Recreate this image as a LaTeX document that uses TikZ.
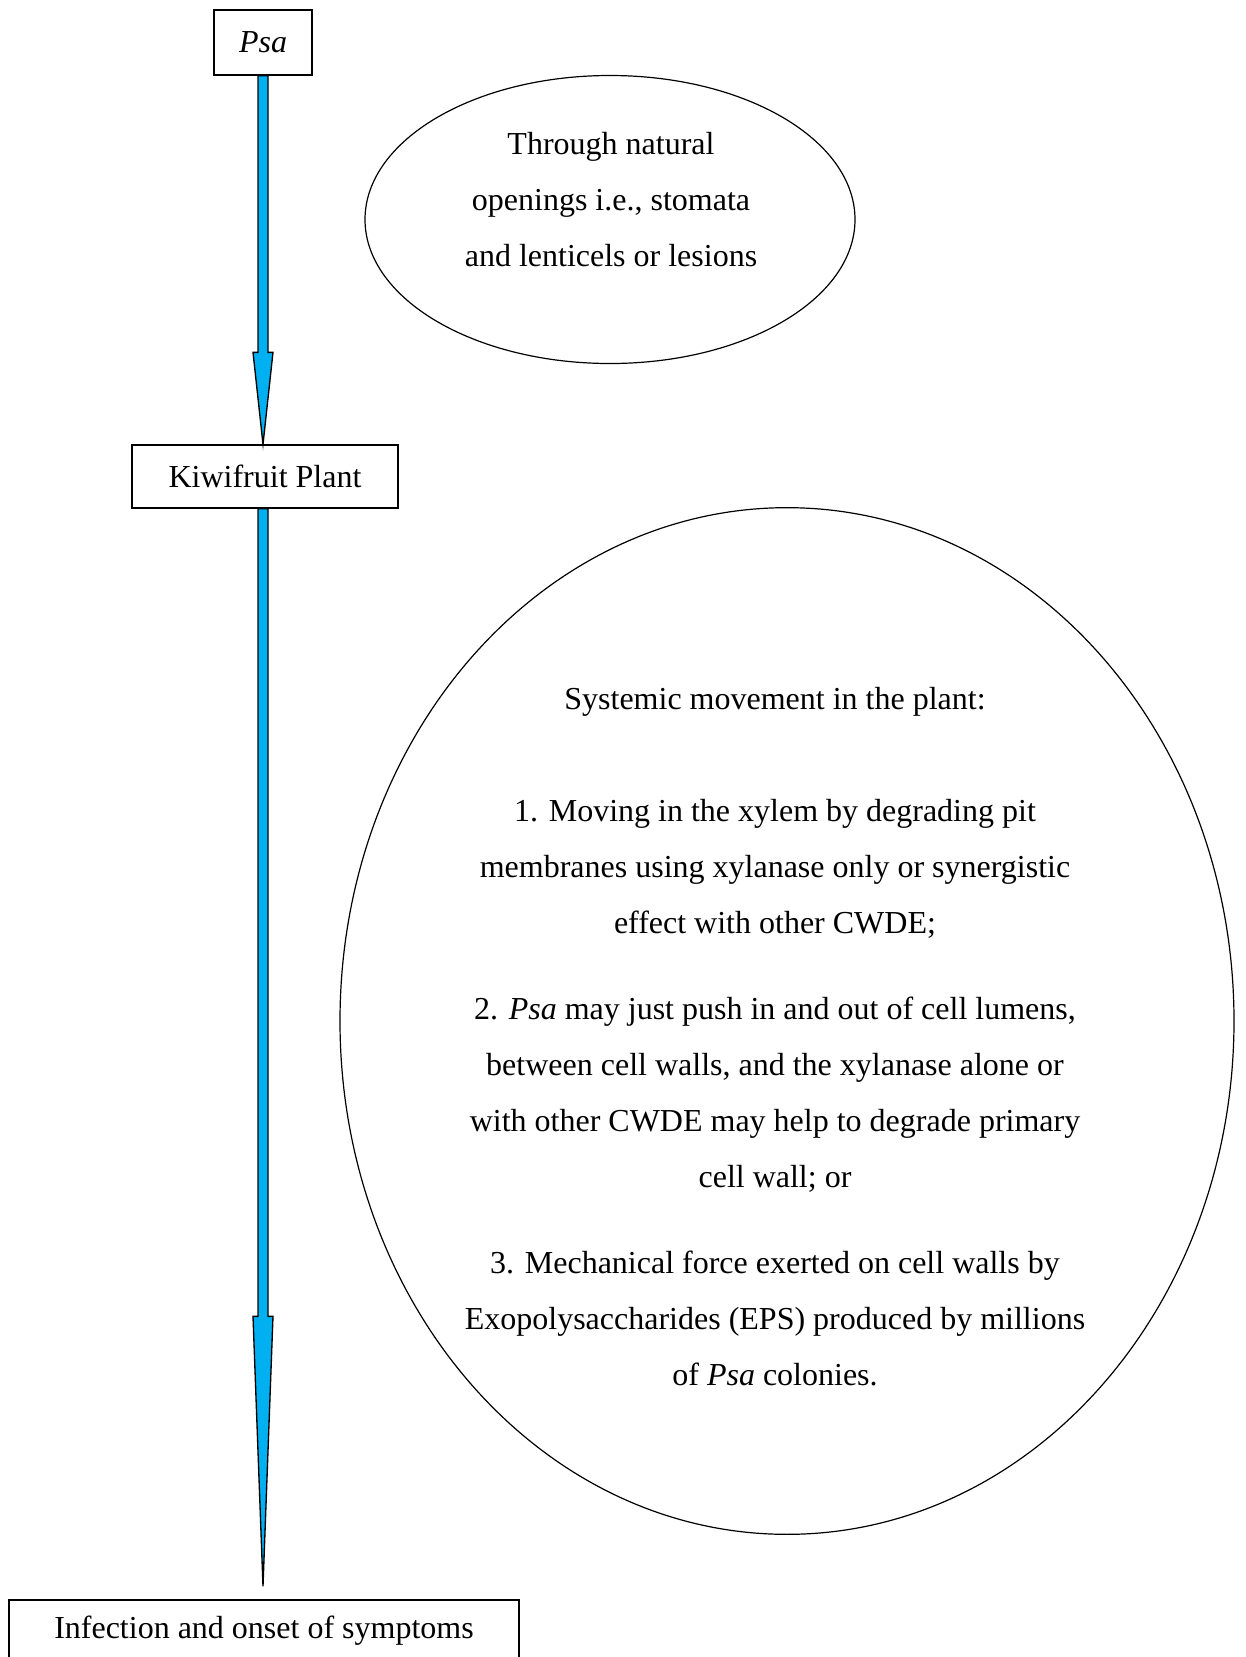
\documentclass[tikz,border=0pt]{standalone}
\usepackage{fontspec}
\setmainfont{Liberation Serif}
\usetikzlibrary{calc,shapes.geometric}
\definecolor{arrowblue}{HTML}{00B0F0}
\begin{document}
\begin{tikzpicture}[x=0.75pt,y=-0.75pt,
  box/.style={draw=black,line width=1pt,inner sep=0pt,font=\fontsize{24}{42}\selectfont},
  txt/.style={align=center,inner sep=0pt,font=\fontsize{24}{42}\selectfont},
  oval/.style={ellipse,draw=black,line width=0.9pt,inner sep=0pt},
  bluearrow/.style={fill=arrowblue,draw=black,line width=1pt,line join=miter}]
\useasboundingbox (0,0) rectangle (1246,1657);
\clip (0,0) rectangle (1246,1657);
% boxes
\node[box,minimum width=73.5pt,minimum height=48.75pt] (psa) at (263,42.5) {\textit{Psa}};
\node[box,minimum width=199.5pt,minimum height=47.25pt] (kiwi) at (265,476.5) {Kiwifruit Plant};
\node[box,minimum width=382.5pt,minimum height=46.5pt] (infect) at (264,1631) {Infection and onset of symptoms};
% ovals
\node[oval,minimum width=367.5pt,minimum height=216pt] (open) at (610,219.5) {};
\node[txt] (opentxt) at (611,200) {Through natural\\openings i.e., stomata\\and lenticels or lesions};
\node[oval,minimum width=670.5pt,minimum height=770pt] (sys) at (787,1021) {};
\node[txt] (p1) at (775,701.5) {Systemic movement in the plant:};
\node[txt] (p2) at (775,869) {1. Moving in the xylem by degrading pit\\membranes using xylanase only or synergistic\\effect with other CWDE;};
\node[txt] (p3) at (775,1095) {2. \textit{Psa} may just push in and out of cell lumens,\\between cell walls, and the xylanase alone or\\with other CWDE may help to degrade primary\\cell wall; or};
\node[txt] (p4) at (775,1318) {3. Mechanical force exerted on cell walls by\\Exopolysaccharides (EPS) produced by millions\\of \textit{Psa} colonies.};
% arrows
\coordinate (t1) at (psa.south |- kiwi.north);
\filldraw[bluearrow] ($(psa.south)+(-5,0)$) -- ($(t1)+(-5,-92)$) -- ($(t1)+(-10,-92)$) -- (t1) -- ($(t1)+(10,-92)$) -- ($(t1)+(5,-92)$) -- ($(psa.south)+(5,0)$) -- cycle;
\coordinate (s2) at (psa.south |- kiwi.south);
\coordinate (t2) at ($(psa.south |- infect.north)+(0,-13)$);
\filldraw[bluearrow] ($(s2)+(-5,0)$) -- ($(t2)+(-5,-270)$) -- ($(t2)+(-10,-270)$) -- (t2) -- ($(t2)+(10,-270)$) -- ($(t2)+(5,-270)$) -- ($(s2)+(5,0)$) -- cycle;
\end{tikzpicture}
\end{document}
